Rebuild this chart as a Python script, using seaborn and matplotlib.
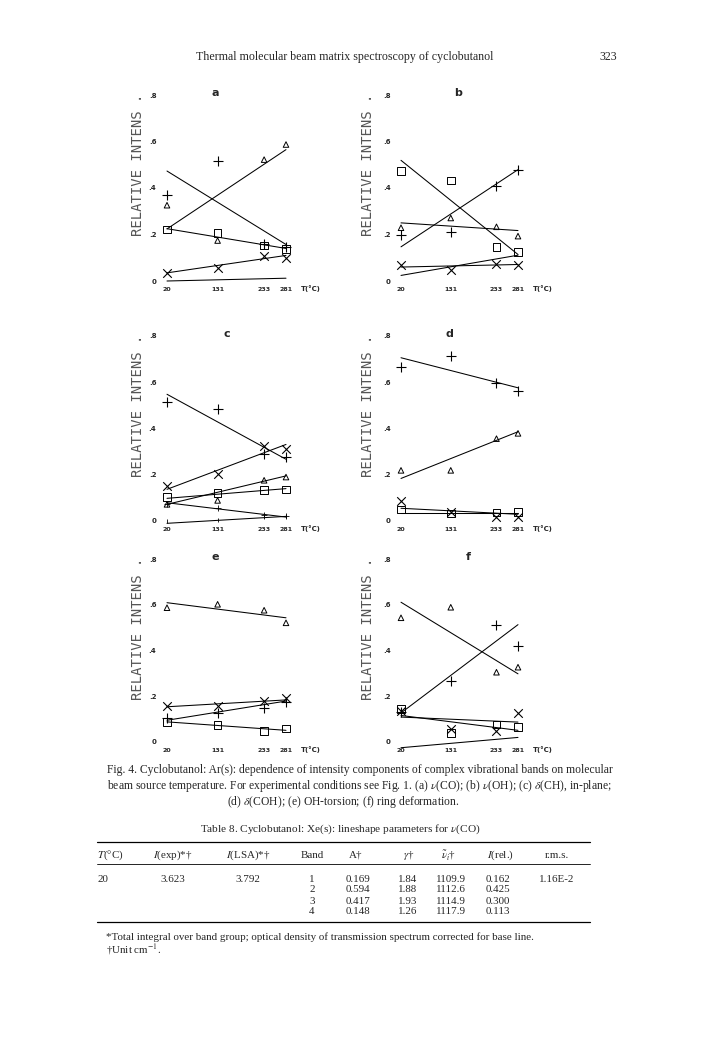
import matplotlib
matplotlib.use("Agg")
import matplotlib.pyplot as plt
import seaborn as sns
from matplotlib.lines import Line2D

# ---------------- data ----------------
T = [20, 131, 233, 281]            # source temperature (deg C)
T_FIT = [20, 281]                  # end points of the fitted straight lines
x_tick_labels = ["20", "131", "233", "281"]
y_tick_vals = [0, 0.2, 0.4, 0.6, 0.8]
y_tick_labels = ["0", ".2", ".4", ".6", ".8"]
panel_letters = ["a", "b", "c", "d", "e", "f"]

# panel a : v(CO)
a_plus = [0.369, 0.518, 0.160, 0.145]
a_tri = [0.326, 0.174, 0.522, 0.587]
a_sq = [0.221, 0.207, 0.152, 0.138]
a_x = [0.034, 0.056, 0.107, 0.098]
a_fits = [(0.473, 0.157), (0.224, 0.565), (0.225, 0.140), (0.035, 0.110), (0.000, 0.012)]

# panel b : v(OH)
b_sq = [0.474, 0.433, 0.146, 0.126]
b_plus = [0.200, 0.210, 0.410, 0.479]
b_tri = [0.229, 0.271, 0.233, 0.193]
b_x = [0.067, 0.046, 0.074, 0.067]
b_fits = [(0.519, 0.114), (0.147, 0.479), (0.250, 0.217), (0.060, 0.071), (0.024, 0.111)]

# panel c : delta(CH) in-plane
c_plus = [0.516, 0.483, 0.290, 0.275]
c_x = [0.151, 0.202, 0.324, 0.310]
c_tri = [0.072, 0.089, 0.176, 0.190]
c_sq = [0.104, 0.122, 0.133, 0.137]
c_plus2 = [0.075, 0.058, 0.026, 0.022]
c_dot = [0.000, 0.005, 0.017, 0.020]
c_fits = [(0.548, 0.267), (0.137, 0.331), (0.072, 0.195), (0.098, 0.140),
          (0.079, 0.017), (-0.010, 0.020)]

# panel d : delta(COH)
d_plus = [0.666, 0.713, 0.598, 0.562]
d_tri = [0.219, 0.219, 0.356, 0.379]
d_x = [0.086, 0.039, 0.017, 0.017]
d_sq = [0.050, 0.032, 0.036, 0.039]
d_fits = [(0.706, 0.576), (0.184, 0.386), (0.055, 0.029), (0.036, 0.036)]

# panel e : OH-torsion
e_tri = [0.587, 0.602, 0.576, 0.521]
e_x = [0.159, 0.159, 0.181, 0.191]
e_plus = [0.103, 0.128, 0.147, 0.176]
e_sq = [0.088, 0.073, 0.048, 0.059]
e_fits = [(0.609, 0.543), (0.154, 0.184), (0.095, 0.179), (0.088, 0.051)]

# panel f : ring deformation
f_tri = [0.543, 0.589, 0.305, 0.327]
f_plus = [0.131, 0.266, 0.513, 0.420]
f_x = [0.135, 0.058, 0.048, 0.128]
f_sq = [0.143, 0.039, 0.076, 0.065]
f_fits = [(0.611, 0.298), (0.127, 0.513), (0.109, 0.087), (0.116, 0.051), (-0.025, 0.020)]

panels = {
    "a": {"+": a_plus, "^": a_tri, "s": a_sq, "x": a_x, "fits": a_fits},
    "b": {"+": b_plus, "^": b_tri, "s": b_sq, "x": b_x, "fits": b_fits},
    "c": {"+": c_plus, "^": c_tri, "s": c_sq, "x": c_x, "+s": c_plus2, ".": c_dot, "fits": c_fits},
    "d": {"+": d_plus, "^": d_tri, "s": d_sq, "x": d_x, "fits": d_fits},
    "e": {"+": e_plus, "^": e_tri, "s": e_sq, "x": e_x, "fits": e_fits},
    "f": {"+": f_plus, "^": f_tri, "s": f_sq, "x": f_x, "fits": f_fits},
}

# table 8
tab_cols = ["$T$(°C)", "$I$(exp)*†", "$I$(LSA)*†", "Band", "A†", "$\\gamma$†", "$\\tilde{\\nu}_i$†", "$I$(rel.)", "r.m.s."]
tab_T = "20"
tab_Iexp = "3.623"
tab_Ilsa = "3.792"
tab_band = ["1", "2", "3", "4"]
tab_A = ["0.169", "0.594", "0.417", "0.148"]
tab_gamma = ["1.84", "1.88", "1.93", "1.26"]
tab_nu = ["1109.9", "1112.6", "1114.9", "1117.9"]
tab_Irel = ["0.162", "0.425", "0.300", "0.113"]
tab_rms = "1.16E-2"

# ---------------- style ----------------
sns.set_style("white")
plt.rcParams["font.family"] = ["Liberation Serif", "DejaVu Serif"]
plt.rcParams["mathtext.fontset"] = "stix"

W, H = 720, 1056
fig = plt.figure(figsize=(W / 100, H / 100), dpi=100)
fig.patch.set_facecolor("white")


def fx(px):
    return px / W


def fy(py):
    return 1 - py / H


COLS = [(167, 286), (401, 518)]            # pixel x of T=20 and T=281
ROWS = [(281, 95), (521, 336), (742, 559)]  # pixel y of value 0 and 0.8
XLIM = (0, 300)
YLIM = (-0.015, 0.85)
TITLE_T = {"a": 125, "b": 147, "c": 151, "d": 129, "e": 125, "f": 170}
SANS = ["DejaVu Sans"]
MONO = ["DejaVu Sans Mono"]

for i, letter in enumerate(panel_letters):
    r, c = divmod(i, 2)
    x20, x281 = COLS[c]
    y0, y8 = ROWS[r]
    s = (x281 - x20) / 261.0
    k = (y0 - y8) / 0.8
    left = x20 - (20 - XLIM[0]) * s
    width = (XLIM[1] - XLIM[0]) * s
    bottom = y0 - YLIM[0] * k
    top = y0 - YLIM[1] * k
    ax = fig.add_axes([fx(left), fy(bottom), width / W, (bottom - top) / H])
    ax.set_facecolor("none")

    data = panels[letter]
    for (v0, v1) in data["fits"]:
        sns.lineplot(x=T_FIT, y=[v0, v1], color="black", linewidth=0.75,
                     estimator=None, ax=ax, legend=False, clip_on=False)
    for key, vals in data.items():
        if key == "fits":
            continue
        if key == "+":
            sns.scatterplot(x=T, y=vals, marker="+", s=45, color="black",
                            linewidth=0.8, ax=ax, legend=False, clip_on=False)
        elif key == "+s":
            sns.scatterplot(x=T, y=vals, marker="+", s=18, color="black",
                            linewidth=0.6, ax=ax, legend=False, clip_on=False)
        elif key == ".":
            sns.scatterplot(x=T, y=vals, marker="|", s=10, color="black",
                            linewidth=0.6, ax=ax, legend=False, clip_on=False)
        elif key == "x":
            sns.scatterplot(x=T, y=vals, marker="x", s=38, color="black",
                            linewidth=0.8, ax=ax, legend=False, clip_on=False)
        elif key == "^":
            sns.scatterplot(x=T, y=vals, marker="^", s=16, facecolor="none",
                            edgecolor="black", linewidth=0.7, ax=ax, legend=False,
                            clip_on=False)
        elif key == "s":
            sns.scatterplot(x=T, y=vals, marker="s", s=30, facecolor="none",
                            edgecolor="black", linewidth=0.7, ax=ax, legend=False,
                            clip_on=False)

    ax.set_xlim(*XLIM)
    ax.set_ylim(*YLIM)
    ax.set_xticks(T)
    ax.set_xticklabels(x_tick_labels, fontsize=4.5, fontweight="bold", family=SANS)
    ax.set_yticks(y_tick_vals)
    ax.set_yticklabels(y_tick_labels, fontsize=5, fontweight="bold", family=SANS)
    ax.tick_params(axis="both", length=0)
    ax.tick_params(axis="x", pad=1.5)
    ax.tick_params(axis="y", pad=1)
    ax.set_xlabel("")
    ax.set_ylabel("")
    ax.grid(False)
    sns.despine(ax=ax, left=True, bottom=True)

    ax.text(314, -0.032, "T(°C)", ha="left", va="center", fontsize=5,
            fontweight="bold", family=SANS, clip_on=False)
    lab_off = 29 if c == 0 else 33
    ax.text(20 - lab_off / s, 0.805, "RELATIVE INTENS .", rotation=90,
            ha="center", va="top", fontsize=10, family=MONO, color="#555555",
            clip_on=False)
    ax.text(TITLE_T[letter], 0.81, letter, ha="center", va="center",
            fontsize=8, fontweight="bold", family=SANS, clip_on=False)

# ---------------- page text ----------------
SERIF = ["Liberation Serif", "DejaVu Serif"]
fig.text(fx(345), fy(57), "Thermal molecular beam matrix spectroscopy of cyclobutanol",
         ha="center", va="center", fontsize=8.6, family=SERIF)
fig.text(fx(617), fy(57), "323", ha="right", va="center", fontsize=8.6, family=SERIF)

CAP = 8.4
cap1 = "Fig. 4. Cyclobutanol: Ar(s): dependence of intensity components of complex vibrational bands on molecular"
cap2 = ("beam source temperature. For experimental conditions see Fig. 1. (a) $\\nu$(CO); "
        "(b) $\\nu$(OH); (c) $\\delta$(CH), in-plane;")
cap3 = "(d) $\\delta$(COH); (e) OH-torsion; (f) ring deformation."
fig.text(fx(613), fy(770), cap1, ha="right", va="center", fontsize=CAP, family=SERIF)
fig.text(fx(612), fy(786), cap2, ha="right", va="center", fontsize=CAP, family=SERIF)
fig.text(fx(343), fy(802), cap3, ha="center", va="center", fontsize=CAP, family=SERIF)

fig.text(fx(340), fy(829), "Table 8. Cyclobutanol: Xe(s): lineshape parameters for $\\nu$(CO)",
         ha="center", va="center", fontsize=8.1, family=SERIF)

TL, TR = 97, 590
for yy, lw in [(842, 0.9), (864, 0.6), (922, 0.9)]:
    fig.add_artist(Line2D([fx(TL), fx(TR)], [fy(yy), fy(yy)], color="black", lw=lw))

TF = 7.9
col_x = [97, 173, 248, 312, 356, 409, 449, 500, 557]
col_ha = ["left"] + ["center"] * 8
for cx, ha, name in zip(col_x, col_ha, tab_cols):
    fig.text(fx(cx), fy(855), name, ha=ha, va="center", fontsize=TF, family=SERIF)

row_y = [879, 890, 901, 912]
fig.text(fx(97), fy(row_y[0]), tab_T, ha="left", va="center", fontsize=TF, family=SERIF)
fig.text(fx(173), fy(row_y[0]), tab_Iexp, ha="center", va="center", fontsize=TF, family=SERIF)
fig.text(fx(248), fy(row_y[0]), tab_Ilsa, ha="center", va="center", fontsize=TF, family=SERIF)
fig.text(fx(557), fy(row_y[0]), tab_rms, ha="center", va="center", fontsize=TF, family=SERIF)
for j, yy in enumerate(row_y):
    fig.text(fx(312), fy(yy), tab_band[j], ha="center", va="center", fontsize=TF, family=SERIF)
    fig.text(fx(358), fy(yy), tab_A[j], ha="center", va="center", fontsize=TF, family=SERIF)
    fig.text(fx(408), fy(yy), tab_gamma[j], ha="center", va="center", fontsize=TF, family=SERIF)
    fig.text(fx(451), fy(yy), tab_nu[j], ha="center", va="center", fontsize=TF, family=SERIF)
    fig.text(fx(498), fy(yy), tab_Irel[j], ha="center", va="center", fontsize=TF, family=SERIF)

fig.text(fx(106), fy(937),
         "*Total integral over band group; optical density of transmission spectrum corrected for base line.",
         ha="left", va="center", fontsize=TF, family=SERIF)
fig.text(fx(106), fy(950), "†Unit cm$^{-1}$.", ha="left", va="center", fontsize=TF, family=SERIF)

fig.savefig("out.png", dpi=100, facecolor="white")
